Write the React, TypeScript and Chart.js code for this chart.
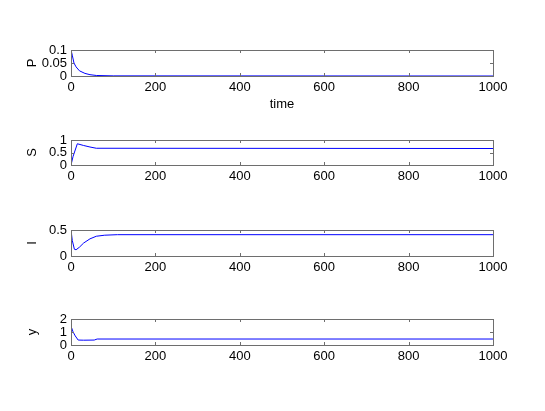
import React, { useEffect, useRef } from "react";
import { Chart, registerables } from "chart.js";

Chart.register(...registerables);

const xTickValues = [0, 200, 400, 600, 800, 1000];

const timeP = [0, 3, 7, 12, 20, 33, 45, 60, 100, 1000];
const valuesP = [0.1, 0.08, 0.05, 0.035, 0.02, 0.01, 0.005, 0.002, 0.0005, 0];
const yTicksP = [0, 0.05, 0.1];

const timeS = [0, 5, 15, 30, 45, 60, 1000];
const valuesS = [0, 0.35, 0.85, 0.78, 0.72, 0.67, 0.66];
const yTicksS = [0, 0.5, 1];

const timeI = [0, 3, 8, 12, 20, 30, 45, 60, 80, 110, 1000];
const valuesI = [0.5, 0.3, 0.13, 0.12, 0.17, 0.25, 0.33, 0.38, 0.4, 0.41, 0.41];
const yTicksI = [0, 0.5];

const timeY = [0, 5, 10, 17, 30, 55, 62, 1000];
const valuesY = [1.45, 1.0, 0.7, 0.38, 0.37, 0.38, 0.46, 0.46];
const yTicksY = [0, 1, 2];

const FONT = "'Liberation Sans', Arial, Helvetica, sans-serif";
const FONT_SIZE = 13;
const PAD_TOP = 14;

type Sub = {
  label: string;
  times: number[];
  values: number[];
  yMin: number;
  yMax: number;
  yTicks: number[];
  top: number;
  bottom: number;
  xTitle?: string;
};

const subs: Sub[] = [
  { label: "P", times: timeP, values: valuesP, yMin: 0, yMax: 0.1, yTicks: yTicksP, top: 50, bottom: 76, xTitle: "time" },
  { label: "S", times: timeS, values: valuesS, yMin: 0, yMax: 1, yTicks: yTicksS, top: 140, bottom: 165 },
  { label: "I", times: timeI, values: valuesI, yMin: 0, yMax: 0.5, yTicks: yTicksI, top: 230, bottom: 256 },
  { label: "y", times: timeY, values: valuesY, yMin: 0, yMax: 2, yTicks: yTicksY, top: 319, bottom: 345 },
];

const framePlugin = {
  id: "matlabFrame",
  afterDraw(chart: any) {
    const { ctx, chartArea } = chart;
    const { left, right, top, bottom } = chartArea;
    const xs = chart.scales.x;
    const ys = chart.scales.y;
    ctx.save();
    ctx.strokeStyle = "#6e6e6e";
    ctx.lineWidth = 1;
    ctx.strokeRect(Math.round(left) + 0.5, Math.round(top) + 0.5, Math.round(right - left), Math.round(bottom - top));
    const tl = 3;
    ctx.beginPath();
    xs.ticks.forEach((t: any) => {
      const px = Math.round(xs.getPixelForValue(t.value)) + 0.5;
      ctx.moveTo(px, bottom);
      ctx.lineTo(px, bottom - tl);
      ctx.moveTo(px, top);
      ctx.lineTo(px, top + tl);
    });
    ys.ticks.forEach((t: any) => {
      const py = Math.round(ys.getPixelForValue(t.value)) + 0.5;
      ctx.moveTo(left, py);
      ctx.lineTo(left + tl, py);
      ctx.moveTo(right, py);
      ctx.lineTo(right - tl, py);
    });
    ctx.stroke();
    ctx.restore();
  },
};

function SubPlot({ sub }: { sub: Sub }) {
  const ref = useRef<HTMLCanvasElement | null>(null);
  const xHeight = sub.xTitle ? 36 : 22;
  const height = PAD_TOP + (sub.bottom - sub.top) + xHeight;
  useEffect(() => {
    if (!ref.current) return;
    const chart = new Chart(ref.current, {
      type: "line",
      data: {
        datasets: [
          {
            data: sub.times.map((t, i) => ({ x: t, y: sub.values[i] })),
            borderColor: "#0000ff",
            borderWidth: 1,
            pointRadius: 0,
            tension: 0,
            fill: false,
          },
        ],
      },
      options: {
        animation: false,
        responsive: false,
        devicePixelRatio: 1,
        layout: { padding: { left: 25, right: 52, top: PAD_TOP, bottom: 0 } },
        plugins: { legend: { display: false }, tooltip: { enabled: false } },
        scales: {
          x: {
            type: "linear",
            min: 0,
            max: 1000,
            afterBuildTicks: (s: any) => {
              s.ticks = xTickValues.map((v) => ({ value: v }));
            },
            afterFit: (s: any) => {
              s.height = xHeight;
            },
            grid: { display: false, drawTicks: false },
            border: { display: false },
            ticks: {
              color: "#000",
              padding: 4,
              maxRotation: 0,
              autoSkip: false,
              font: { family: FONT, size: FONT_SIZE },
              callback: (v: any) => String(v),
            },
            title: sub.xTitle
              ? { display: true, text: sub.xTitle, color: "#000", padding: 0, font: { family: FONT, size: FONT_SIZE } }
              : { display: false },
          },
          y: {
            type: "linear",
            min: sub.yMin,
            max: sub.yMax,
            afterBuildTicks: (s: any) => {
              s.ticks = sub.yTicks.map((v) => ({ value: v }));
            },
            afterFit: (s: any) => {
              s.width = 46;
            },
            grid: { display: false, drawTicks: false },
            border: { display: false },
            ticks: {
              color: "#000",
              padding: 4,
              autoSkip: false,
              font: { family: FONT, size: FONT_SIZE },
              callback: (v: any) => String(v),
            },
            title: { display: true, text: sub.label, color: "#000", padding: 0, font: { family: FONT, size: FONT_SIZE } },
          },
        },
      },
      plugins: [framePlugin],
    } as any);
    return () => chart.destroy();
  }, []);
  return (
    <div style={{ position: "absolute", left: 0, top: sub.top - PAD_TOP, width: 545, height }}>
      <canvas ref={ref} width={545} height={height} style={{ width: 545, height, display: "block" }} />
    </div>
  );
}

export default function App() {
  return (
    <div style={{ position: "absolute", left: 0, top: 0, width: 545, height: 411, background: "#fff", overflow: "hidden" }}>
      {subs.map((s) => (
        <SubPlot key={s.label} sub={s} />
      ))}
    </div>
  );
}
